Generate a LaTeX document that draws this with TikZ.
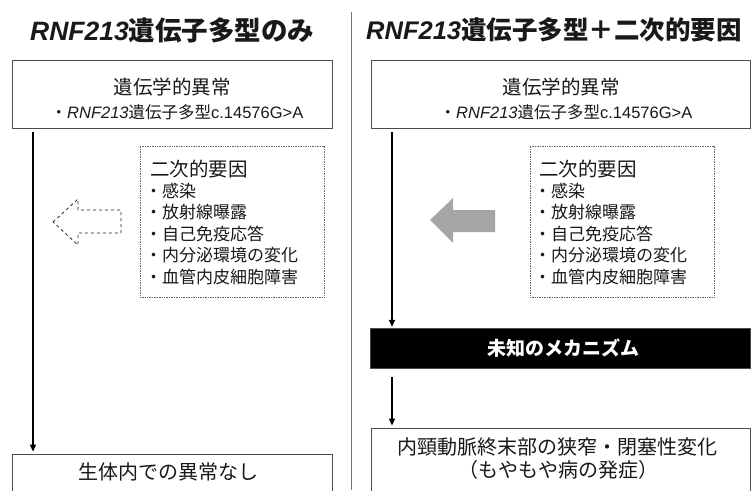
\documentclass[tikz,border=0pt]{standalone}
\usepackage{fontspec}
\setmainfont{Liberation Sans}
\newfontfamily\jp{Noto Sans CJK JP}
\usetikzlibrary{arrows.meta}
\newcommand\lat[1]{{\normalfont #1}}
\newcommand\lati[1]{{\normalfont\itshape #1}}
\tikzset{
  frame/.style={draw=black!70, line width=0.9pt, inner sep=0pt},
  dotbox/.style={draw=black!60, densely dotted, line width=0.7pt, inner sep=0pt},
  txt/.style={inner sep=0pt, text=black!90, font=\jp},
  flow/.style={line width=1.9pt, -{Triangle[length=7pt,width=6pt]}},
}
\begin{document}
\begin{tikzpicture}[x=1pt,y=-1pt]
\clip (0,0) rectangle (754,490);
\fill[white] (0,0) rectangle (754,490);
% divider
\draw[black!55, line width=0.9pt] (351,12) -- (351,490);
% titles
\node[txt, anchor=west, font=\jp\bfseries\fontsize{26.5}{30}\selectfont] (t1) at (30,30) {\lati{\bfseries RNF213}遺伝子多型のみ};
\node[txt, anchor=west, font=\jp\bfseries\fontsize{25.5}{28}\selectfont] (t2) at (366,30) {\lati{\bfseries RNF213}遺伝子多型＋二次的要因};
% ---------- left column
\node[frame, minimum width=320pt, minimum height=68pt] (ltop) at (172,94) {};
\node[txt, font=\jp\fontsize{19.5}{22}\selectfont] at (172,87) {遺伝学的異常};
\node[txt, font=\jp\fontsize{16.5}{20}\selectfont] at (177,112) {・\lati{RNF213}遺伝子多型\lat{c.14576G>A}};
\node[dotbox, minimum width=184pt, minimum height=151pt] (ldot) at (232,221.5) {};
\node[txt, anchor=west, font=\jp\fontsize{19.5}{22}\selectfont] at (150,169) {二次的要因};
\foreach \t [count=\i] in {感染,放射線曝露,自己免疫応答,内分泌環境の変化,血管内皮細胞障害}
  \node[txt, anchor=west, font=\jp\fontsize{17}{20}\selectfont] at (145,{169+21.6*\i}) {・\t};
\draw[black!85, dashed, line width=0.8pt] (53,222) -- (78,199) -- (78,210) -- (121,210) -- (121,233) -- (78,233) -- (78,245) -- cycle;
\node[frame, minimum width=320pt, minimum height=50pt] (lbot) at (172,479) {};
\node[txt, font=\jp\fontsize{20}{22}\selectfont] at (168,472) {生体内での異常なし};
\coordinate (lx) at (33,0);
\draw[flow] ([yshift=-4pt]ltop.south -| lx) -- ([yshift=2pt]lbot.north -| lx);
% ---------- right column
\node[frame, minimum width=379pt, minimum height=68pt] (rtop) at (560.5,94) {};
\node[txt, font=\jp\fontsize{19.5}{22}\selectfont] at (561,87) {遺伝学的異常};
\node[txt, font=\jp\fontsize{16.5}{20}\selectfont] at (566,112) {・\lati{RNF213}遺伝子多型\lat{c.14576G>A}};
\node[dotbox, minimum width=184pt, minimum height=151pt] (rdot) at (622,221.5) {};
\node[txt, anchor=west, font=\jp\fontsize{19.5}{22}\selectfont] at (539,169) {二次的要因};
\foreach \t [count=\i] in {感染,放射線曝露,自己免疫応答,内分泌環境の変化,血管内皮細胞障害}
  \node[txt, anchor=west, font=\jp\fontsize{17}{20}\selectfont] at (534,{169+21.6*\i}) {・\t};
\fill[black!35] (430,220) -- (453,198) -- (453,210) -- (495,210) -- (495,232) -- (453,232) -- (453,243) -- cycle;
\node[fill=black, draw=black!70, minimum width=380pt, minimum height=40pt, inner sep=0pt] (mech) at (560,348) {};
\node[txt, text=white, font=\jp\bfseries\fontsize{19}{22}\selectfont] at (563,348) {未知のメカニズム};
\node[frame, minimum width=379pt, minimum height=74pt] (rbot) at (560.5,465) {};
\node[txt, font=\jp\fontsize{20}{22}\selectfont] at (557,447) {内頸動脈終末部の狭窄・閉塞性変化};
\node[txt, font=\jp\fontsize{20}{22}\selectfont] at (558,470) {（もやもや病の発症）};
\coordinate (rx) at (392,0);
\draw[flow] ([yshift=-4pt]rtop.south -| rx) -- ([yshift=1pt]mech.north -| rx);
\draw[flow] ([yshift=-9pt]mech.south -| rx) -- ([yshift=2pt]rbot.north -| rx);
\end{tikzpicture}
\end{document}
